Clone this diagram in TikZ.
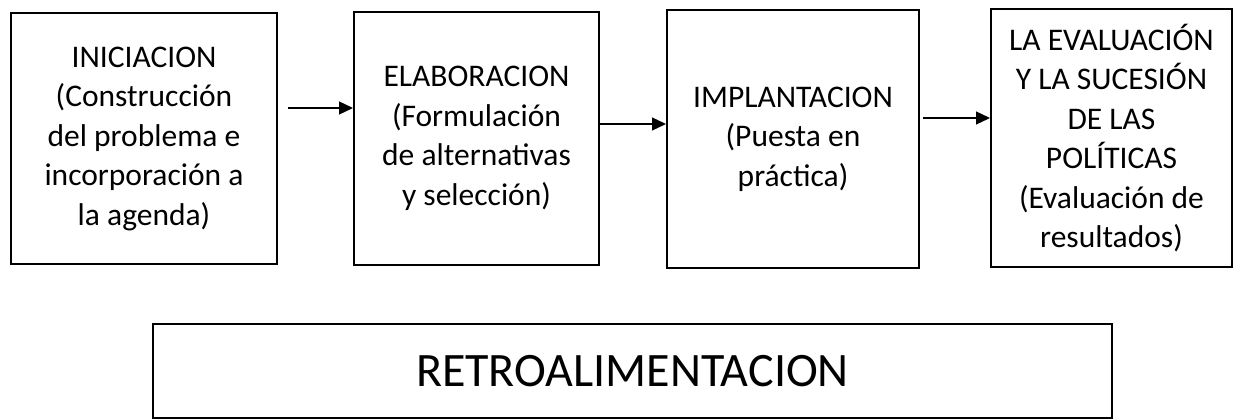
\documentclass[tikz,border=0pt]{standalone}
\usepackage{fontspec}
\setmainfont{Carlito}
\usetikzlibrary{arrows.meta}

\begin{document}
\begin{tikzpicture}[x=1pt,y=-1pt,>={Triangle[length=14pt,width=13pt]},
        caja/.style={draw,line width=2pt,inner sep=0pt,align=center,
            font=\fontsize{31.5}{39.5}\selectfont},
        flecha/.style={->,line width=1.3pt}]
        \useasboundingbox (0,0) rectangle (1236,420);
        % cajas
        \node[caja,minimum width=266pt,minimum height=251pt] (ini) at (144,138.5)
            {INICIACION\\(Construcción\\del problema e\\incorporación a\\la agenda)};
        \node[caja,minimum width=245pt,minimum height=253pt] (ela) at (476.5,138.5)
            {ELABORACION\\(Formulación\\de alternativas\\y selección)};
        \node[caja,minimum width=252pt,minimum height=257pt] (imp) at (793,139)
            {IMPLANTACION\\(Puesta en\\práctica)};
        \node[caja,minimum width=241pt,minimum height=257pt] (eva) at (1111.5,138)
            {LA EVALUACIÓN\\Y LA SUCESIÓN\\DE LAS\\POLÍTICAS\\(Evaluación de\\resultados)};
        \node[caja,font=\fontsize{48}{58}\selectfont,minimum width=959pt,minimum height=94pt]
            (retro) at (632.5,371) {RETROALIMENTACION};
        % flechas
        \coordinate (f1) at ([xshift=10pt,yshift=30.5pt]ini.east);
        \coordinate (f2) at ([yshift=14.5pt]ela.east);
        \coordinate (f3) at ([xshift=3pt,yshift=21pt]imp.east);
        \draw[flecha] (f1) -- (f1 -| ela.west);
        \draw[flecha] (f2) -- (f2 -| imp.west);
        \draw[flecha] (f3) -- (f3 -| eva.west);
\end{tikzpicture}
\end{document}
